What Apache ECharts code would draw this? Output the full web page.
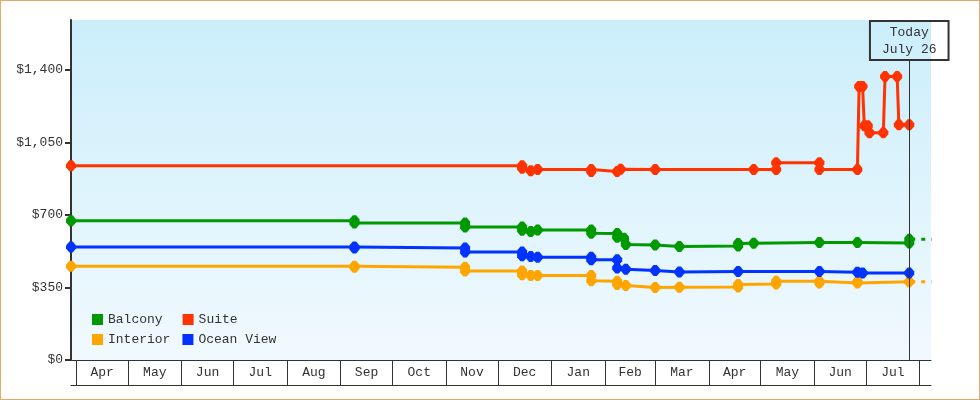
<!DOCTYPE html>
<html>
<head>
<meta charset="utf-8">
<script src="https://cdn.jsdelivr.net/npm/echarts@6/dist/echarts.min.js"></script>
<style>
  html, body { margin: 0; padding: 0; background: #ffffff; }
  #wrap { position: relative; width: 980px; height: 400px; }
  #chart { position: absolute; left: 0; top: 0; width: 980px; height: 400px; }
  #frame { position: absolute; left: 0; top: 0; width: 980px; height: 400px; box-sizing: border-box; border: 1px solid #e8a86a; pointer-events: none; }
</style>
</head>
<body>
<div id="wrap"><div id="chart"></div><div id="frame"></div></div>
<script>
// ---- data ----
const monthStarts = ['2023-04-01','2023-05-01','2023-06-01','2023-07-01','2023-08-01','2023-09-01','2023-10-01','2023-11-01','2023-12-01','2024-01-01','2024-02-01','2024-03-01','2024-04-01','2024-05-01','2024-06-01','2024-07-01','2024-08-01'];
const monthLabels = ['Apr','May','Jun','Jul','Aug','Sep','Oct','Nov','Dec','Jan','Feb','Mar','Apr','May','Jun','Jul'];
const yTicks = [0, 350, 700, 1050, 1400];
const xStart = '2023-03-29';
const xEnd = '2024-08-07';
const todayDate = '2024-07-26';
const todayText = 'Today\nJuly 26';

const balcony = [
  ['2023-03-29',672],
  ['2023-09-09',672],['2023-09-09',661],
  ['2023-11-12',661],['2023-11-12',642],
  ['2023-12-15',642],['2023-12-15',626],
  ['2023-12-20',620],
  ['2023-12-24',627],
  ['2024-01-24',627],['2024-01-24',612],
  ['2024-02-08',610],['2024-02-08',592],
  ['2024-02-12',588],
  ['2024-02-13',557],
  ['2024-03-01',555],
  ['2024-03-15',548],
  ['2024-04-18',550],['2024-04-18',562],
  ['2024-04-27',563],
  ['2024-06-04',567],
  ['2024-06-26',567],
  ['2024-07-26',565],['2024-07-26',583]
];
const suite = [
  ['2023-03-29',938],
  ['2023-12-15',938],['2023-12-15',926],
  ['2023-12-20',914],
  ['2023-12-24',919],
  ['2024-01-24',919],['2024-01-24',910],
  ['2024-02-08',910],
  ['2024-02-10',921],
  ['2024-03-01',919],
  ['2024-04-27',919],
  ['2024-05-10',920],['2024-05-10',952],
  ['2024-06-04',952],['2024-06-04',919],
  ['2024-06-26',919],['2024-06-27',1320],
  ['2024-06-29',1320],['2024-06-30',1131],
  ['2024-07-02',1131],['2024-07-03',1097],
  ['2024-07-11',1097],['2024-07-12',1368],
  ['2024-07-19',1368],['2024-07-20',1136],
  ['2024-07-26',1136]
];
const interior = [
  ['2023-03-29',453],
  ['2023-09-09',453],['2023-09-09',448],
  ['2023-11-12',448],['2023-11-12',430],
  ['2023-12-15',430],['2023-12-15',411],
  ['2023-12-20',408],
  ['2023-12-24',408],
  ['2024-01-24',408],['2024-01-24',382],
  ['2024-02-08',380],['2024-02-08',365],
  ['2024-02-13',359],
  ['2024-03-01',350],
  ['2024-03-15',351],
  ['2024-04-18',352],['2024-04-18',364],
  ['2024-05-10',367],['2024-05-10',380],
  ['2024-06-04',380],['2024-06-04',372],
  ['2024-06-26',372],['2024-06-26',378],
  ['2024-07-26',378]
];
const oceanView = [
  ['2023-03-29',545],
  ['2023-09-09',545],['2023-09-09',540],
  ['2023-11-12',540],['2023-11-12',521],
  ['2023-12-15',521],['2023-12-15',503],
  ['2023-12-20',499],
  ['2023-12-24',496],
  ['2024-01-24',496],['2024-01-24',484],
  ['2024-02-08',484],['2024-02-08',444],
  ['2024-02-13',438],
  ['2024-03-01',432],
  ['2024-03-15',425],
  ['2024-04-18',427],
  ['2024-06-04',427],
  ['2024-06-26',424],
  ['2024-06-29',420],
  ['2024-07-26',420]
];
const balconyForecast = [['2024-07-26',583],['2024-08-08',583]];
const interiorForecast = [['2024-07-26',378],['2024-08-08',378]];

// ---- helpers ----
const ts = s => { const p = s.split('-').map(Number); return Date.UTC(p[0], p[1]-1, p[2]); };
const conv = arr => arr.map(d => [ts(d[0]), d[1]]);
const tickVals = monthStarts.map(ts);
const midVals = monthLabels.map((m, i) => (tickVals[i] + tickVals[i+1]) / 2);
const FONT = 'Liberation Mono';
const TXT = '#333333';
const COLORS = { Balcony: '#009900', Suite: '#ff3300', Interior: '#ffa500', 'Ocean View': '#0033ff' };
const MARK = 'path://M3,0L6,0L9,4L9,7L6,11L3,11L0,7L0,4Z';
const xMin = ts(xStart);
const xMax = ts(xEnd) + 14 * 3600 * 1000;

function mainSeries(name, data, extra) {
  return Object.assign({
    name: name, type: 'line', data: conv(data),
    symbol: MARK, symbolSize: [10, 11], showSymbol: true,
    itemStyle: { color: COLORS[name] },
    lineStyle: { color: COLORS[name], width: 3 },
    emphasis: { disabled: true }, z: 3
  }, extra || {});
}
function fcSeries(name, data) {
  return {
    name: name, type: 'line', data: conv(data), showSymbol: false, symbol: 'none',
    itemStyle: { color: COLORS[name] },
    lineStyle: { color: COLORS[name], width: 3, type: [4, 6], dashOffset: -2 },
    emphasis: { disabled: true }, z: 2
  };
}

const chart = echarts.init(document.getElementById('chart'), null, { renderer: 'canvas' });
const yTop = 1641;
chart.setOption({
  animation: false,
  textStyle: { fontFamily: FONT },
  grid: {
    left: 71, right: 49, top: 20, bottom: 40, show: true, borderWidth: 0,
    backgroundColor: new echarts.graphic.LinearGradient(0, 0, 0, 1, [
      { offset: 0, color: '#cbeefb' }, { offset: 1, color: '#f1f9fe' }
    ])
  },
  legend: [
    { data: ['Balcony', 'Suite'], left: 92, top: 313, padding: 0, itemGap: 20, icon: 'rect', itemWidth: 11, itemHeight: 11,
      textStyle: { fontFamily: FONT, fontSize: 13, color: TXT }, selectedMode: false },
    { data: ['Interior', 'Ocean View'], left: 92, top: 333, padding: 0, itemGap: 12, icon: 'rect', itemWidth: 11, itemHeight: 11,
      textStyle: { fontFamily: FONT, fontSize: 13, color: TXT }, selectedMode: false }
  ],
  xAxis: [
    {
      type: 'value', min: xMin, max: xMax,
      axisLine: { show: true, onZero: false, lineStyle: { color: TXT, width: 1 } },
      axisTick: { show: true, customValues: tickVals, length: 25, lineStyle: { color: TXT, width: 1 } },
      axisLabel: { show: true, customValues: midVals, margin: 6, fontFamily: FONT, fontSize: 13, color: TXT,
        hideOverlap: false,
        formatter: function (v) { let best = 0, bd = Infinity; midVals.forEach((m, i) => { const d = Math.abs(m - v); if (d < bd) { bd = d; best = i; } }); return monthLabels[best]; } },
      splitLine: { show: false }
    },
    {
      type: 'value', min: xMin, max: xMax, position: 'bottom', offset: 25,
      axisLine: { show: true, onZero: false, lineStyle: { color: TXT, width: 1 } },
      axisTick: { show: false }, axisLabel: { show: false }, splitLine: { show: false }
    }
  ],
  yAxis: {
    type: 'value', min: 0, max: yTop,
    axisLine: { show: true, lineStyle: { color: TXT, width: 2 } },
    axisTick: { show: true, customValues: yTicks, length: 6, lineStyle: { color: TXT, width: 2 } },
    axisLabel: { customValues: yTicks, margin: 8, fontFamily: FONT, fontSize: 13, color: TXT,
      formatter: v => '$' + v.toLocaleString('en-US') },
    splitLine: { show: false }
  },
  series: [
    fcSeries('Balcony', balconyForecast),
    fcSeries('Interior', interiorForecast),
    mainSeries('Balcony', balcony),
    mainSeries('Suite', suite, {
      markLine: {
        silent: true, symbol: 'none', animation: false,
        lineStyle: { color: TXT, width: 1, type: 'solid' },
        label: {
          show: true, position: 'end', distance: 0, formatter: todayText,
          fontFamily: FONT, fontSize: 13, lineHeight: 17, color: TXT,
          borderColor: TXT, borderWidth: 1, backgroundColor: 'transparent', padding: [3, 12, 2, 12]
        },
        data: [[{ coord: [ts(todayDate), 0] }, { coord: [ts(todayDate), 1448] }]]
      }
    }),
    mainSeries('Interior', interior),
    mainSeries('Ocean View', oceanView)
  ]
});
</script>
</body>
</html>
